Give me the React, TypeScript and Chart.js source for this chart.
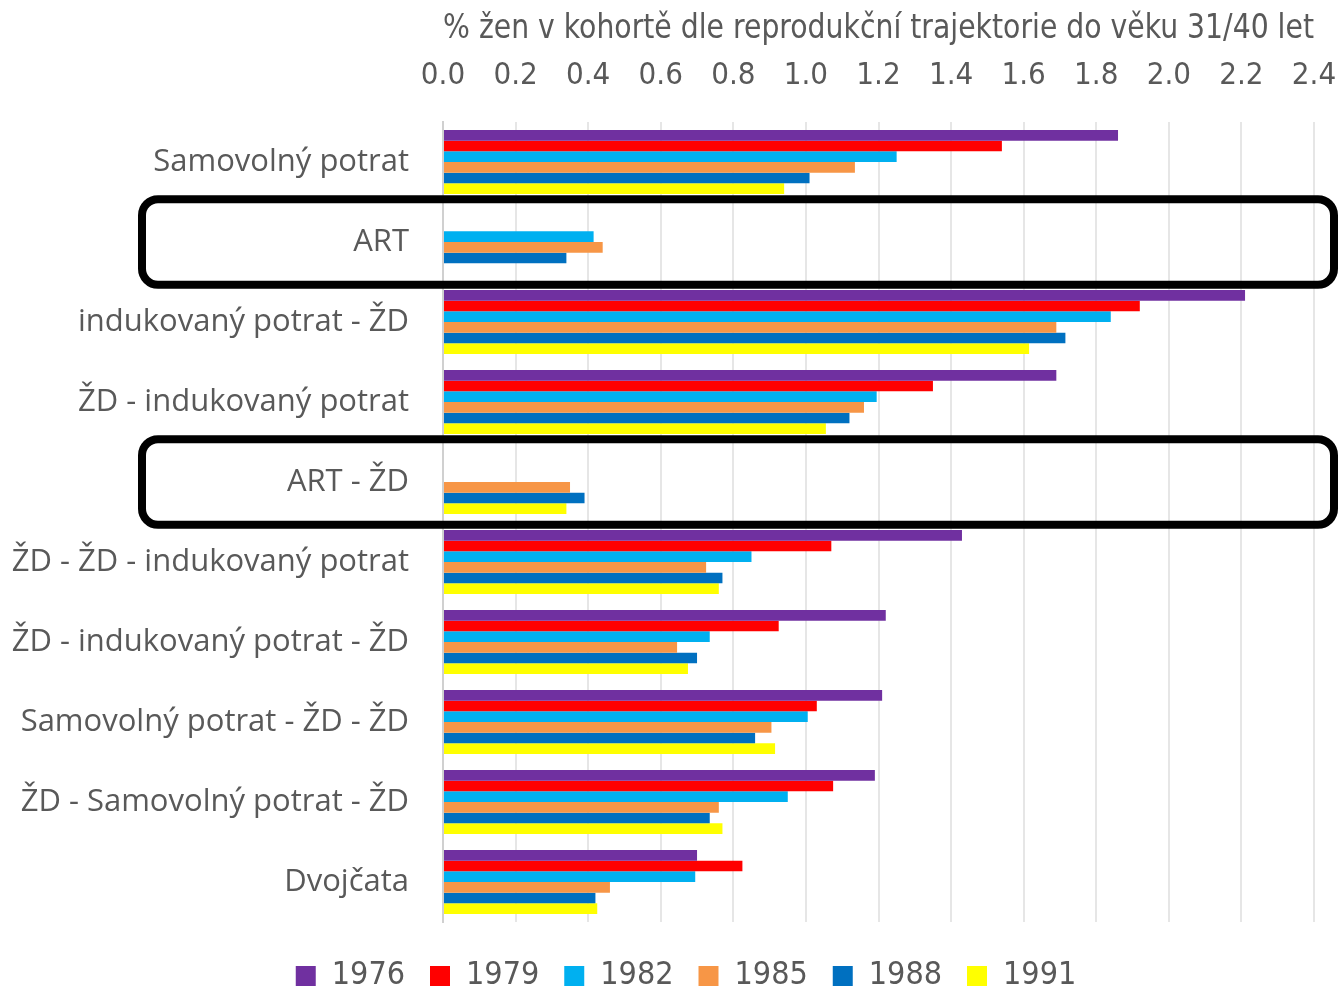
import React, { useEffect, useRef } from "react";
import { Chart, registerables } from "chart.js";

Chart.register(...registerables);

const categories = [
  "Samovolný potrat",
  "ART",
  "indukovaný potrat - ŽD",
  "ŽD - indukovaný potrat",
  "ART - ŽD",
  "ŽD - ŽD - indukovaný potrat",
  "ŽD - indukovaný potrat - ŽD",
  "Samovolný potrat - ŽD - ŽD",
  "ŽD - Samovolný potrat - ŽD",
  "Dvojčata",
];

const seriesNames = ["1976", "1979", "1982", "1985", "1988", "1991"];
const seriesColors = ["#7030A0", "#FF0000", "#00B0F0", "#F79646", "#0070C0", "#FFFF00"];

const v1976 = [1.86, null, 2.21, 1.69, null, 1.43, 1.22, 1.21, 1.19, 0.70];
const v1979 = [1.54, null, 1.92, 1.35, null, 1.07, 0.925, 1.03, 1.075, 0.825];
const v1982 = [1.25, 0.415, 1.84, 1.195, null, 0.85, 0.735, 1.005, 0.95, 0.695];
const v1985 = [1.135, 0.44, 1.69, 1.16, 0.35, 0.725, 0.645, 0.905, 0.76, 0.46];
const v1988 = [1.01, 0.34, 1.715, 1.12, 0.39, 0.77, 0.70, 0.86, 0.735, 0.42];
const v1991 = [0.94, null, 1.615, 1.055, 0.34, 0.76, 0.675, 0.915, 0.77, 0.425];

const seriesValues = [v1976, v1979, v1982, v1985, v1988, v1991];

const highlighted = ["ART", "ART - ŽD"];

const axisTitle = "% žen v kohortě dle reprodukční trajektorie do věku 31/40 let";

const TEXT = "#595959";
const NARROW = "'Liberation Sans Narrow', 'DejaVu Sans Condensed', 'Open Sans', sans-serif";
const SANS = "'Open Sans', 'Noto Sans', sans-serif";

const boxPlugin = {
  id: "highlightBoxes",
  afterDatasetsDraw(chart: any) {
    const { ctx, chartArea } = chart;
    const y = chart.scales.y;
    const half = (y.getPixelForValue(1) - y.getPixelForValue(0)) * 0.535;
    const left = chartArea.left - 301;
    const right = chartArea.right + 20;
    ctx.save();
    ctx.strokeStyle = "#000000";
    ctx.lineWidth = 8;
    highlighted.forEach((name) => {
      const idx = categories.indexOf(name);
      const cy = y.getPixelForValue(idx);
      const top = cy - half;
      const h = half * 2;
      ctx.beginPath();
      ctx.roundRect(left, top, right - left, h, 16);
      ctx.stroke();
    });
    ctx.restore();
  },
};

const legendShiftPlugin = {
  id: "legendShift",
  afterLayout(chart: any) {
    const lg = chart.legend;
    if (!lg) return;
    const dx = 29;
    const dy = 13;
    lg.left += dx;
    lg.right += dx;
    lg.top += dy;
    lg.bottom += dy;
  },
};

export default function App() {
  const ref = useRef<HTMLCanvasElement | null>(null);

  useEffect(() => {
    document.body.style.margin = "0";
    const canvas = ref.current;
    if (!canvas) return;
    const chart = new Chart(canvas, {
      type: "bar",
      data: {
        labels: categories,
        datasets: seriesNames.map((name, i) => ({
          label: name,
          data: seriesValues[i],
          backgroundColor: seriesColors[i],
          borderWidth: 0,
          categoryPercentage: 0.8,
          barPercentage: 1.0,
        })),
      },
      options: {
        indexAxis: "y",
        animation: false,
        responsive: false,
        maintainAspectRatio: false,
        layout: { padding: { left: 0, right: 28, top: 9, bottom: -2 } },
        plugins: {
          legend: {
            position: "bottom",
            labels: {
              boxWidth: 20,
              boxHeight: 20,
              padding: 25,
              color: TEXT,
              font: { family: NARROW, size: 32 },
            },
          },
          tooltip: { enabled: false },
        },
        scales: {
          x: {
            position: "top",
            min: 0,
            max: 2.4,
            ticks: {
              stepSize: 0.2,
              color: TEXT,
              font: { family: NARROW, size: 31 },
              padding: 27,
              callback: (v: any) => Number(v).toFixed(1),
            },
            grid: { color: "#E6E6E6", lineWidth: 2, drawTicks: false },
            border: { display: false },
            title: {
              display: true,
              text: axisTitle,
              color: TEXT,
              font: { family: NARROW, size: 34 },
              padding: { top: 0, bottom: 4 },
            },
            afterFit: (scale: any) => {
              scale.height = 113;
              scale.paddingLeft = 0;
              scale.paddingRight = 0;
            },
          },
          y: {
            ticks: {
              color: TEXT,
              font: { family: SANS, size: 31 },
              padding: 34,
            },
            grid: { display: false, drawTicks: false },
            border: { display: true, color: "#D0D0D0", width: 2 },
            afterFit: (scale: any) => {
              scale.width = 443;
            },
          },
        },
      },
      plugins: [boxPlugin, legendShiftPlugin],
    });
    return () => chart.destroy();
  }, []);

  return (
    <div style={{ width: 1342, height: 987 }}>
      <canvas ref={ref} width={1342} height={987} style={{ display: "block" }} />
    </div>
  );
}
